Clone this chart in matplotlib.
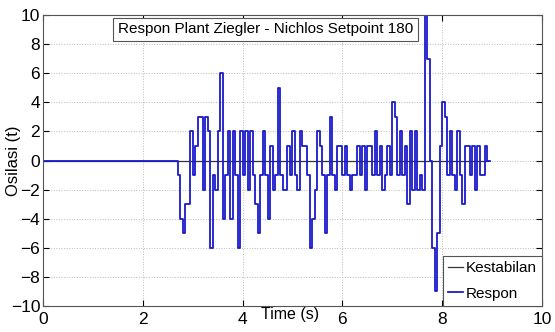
import matplotlib.pyplot as plt
import numpy as np

plt.rcParams['font.family'] = ['Liberation Sans', 'DejaVu Sans']

# respon sampled every 0.05 s starting at 2.70 s (zero before that)
t_start = 2.70
dt = 0.05
respon = [
    -1, -4, -5, -3, -3, 2, -1, 1, 3, 3, -2, 3, 2, -6, -1, -2, 2, 6, -4, -1,
    2, -4, 2, -1, -6, 2, -1, 2, -2, 2, -1, -3, -5, -1, 2, -1, -4, 1, -2, -1,
    5, -1, -2, -2, 1, -1, 2, -1, -2, 2, 1, 1, -1, -6, -4, -2, 2, 1, -1, -5,
    -1, 3, -1, -2, 1, 1, -1, 1, -1, -2, -1, -1, 1, -1, 1, -2, 1, 1, -1, 2,
    -1, 1, -2, -1, 1, -1, 4, 3, -1, 2, -1, 1, -3, 2, -2, 2, -2, -1, -2, 10,
    7, 0, -6, -9, -5, 1, 4, 3, -1, 2, -1, -2, 2, -1, -3, 1, 1, -1, 1, -2,
    1, -1, -1, 1, 0,
]
kestabilan_t = [0, 8.92]
kestabilan = [0, 0]

x_ticks = [0, 2, 4, 6, 8, 10]
y_ticks = [-10, -8, -6, -4, -2, 0, 2, 4, 6, 8, 10]

time = np.concatenate(([0.0], t_start + dt * np.arange(len(respon)),
                       [t_start + dt * len(respon)]))
vals = np.concatenate(([0], respon, [0]))

fig = plt.figure(figsize=(5.55, 3.32), dpi=100)
ax = fig.add_axes([0.0775, 0.0783, 0.899, 0.8765])

ax.plot(kestabilan_t, kestabilan, color='#333333', lw=0.9, label='Kestabilan')
ax.step(time, vals, where='post', color='#1a1acc', lw=1.3, label='Respon')

ax.set_xlim(0, 10)
ax.set_ylim(-10, 10)
ax.set_xticks(x_ticks)
ax.set_yticks(y_ticks)
ax.tick_params(direction='in', top=True, right=True, length=4,
               labelsize=12.5, pad=2)
ax.tick_params(axis='x', pad=4)
ax.grid(True, ls=':', color='#bbbbbb', lw=0.7)
for s in ax.spines.values():
    s.set_color('#555555')
    s.set_linewidth(0.8)

ax.set_xlabel('Time (s)', fontsize=11.5)
ax.xaxis.set_label_coords(0.495, -0.005)
ax.set_ylabel('Osilasi (t)', fontsize=12)
ax.yaxis.set_label_coords(-0.045, 0.5)

ax.text(0.446, 0.951, 'Respon Plant Ziegler - Nichlos Setpoint 180',
        transform=ax.transAxes, ha='center', va='center', fontsize=11,
        bbox=dict(boxstyle='square,pad=0.3', fc='white', ec='#555555', lw=0.8))

leg = ax.legend(loc='lower right', borderaxespad=0, fontsize=11,
                fancybox=False, edgecolor='#555555', framealpha=1,
                handlelength=1.0, handletextpad=0.15, labelspacing=0.75,
                borderpad=0.35)
leg.get_frame().set_linewidth(0.8)

fig.savefig('out.png', dpi=100)
